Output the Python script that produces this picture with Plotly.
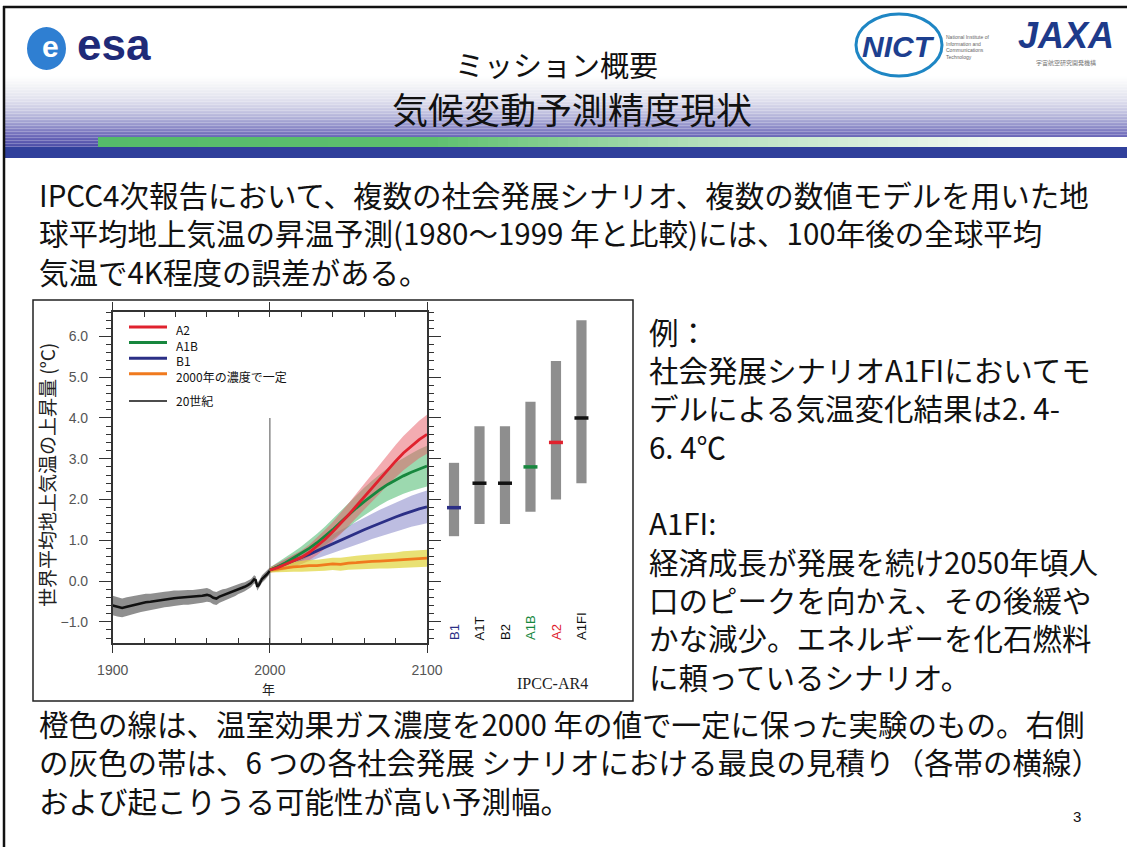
import plotly.graph_objects as go

W, H = 1127, 847
def px(x): return x / W
def py(y): return 1 - y / H

# ---------------- data ----------------
years_hist = [1900,1903,1906,1909,1912,1915,1918,1921,1924,1927,1930,1933,1936,1939,1942,1945,1948,1951,1954,1957,
              1960,1962,1964,1966,1968,1970,1972,1974,1976,1978,1980,1982,1984,1986,1988,1990,1991,1992,1993,1995,
              1997,1998,2000]
temp_hist = [-0.60,-0.63,-0.66,-0.63,-0.60,-0.57,-0.55,-0.52,-0.51,-0.49,-0.47,-0.45,-0.44,-0.42,-0.41,-0.40,-0.40,-0.39,-0.38,-0.36,
             -0.34,-0.36,-0.41,-0.43,-0.38,-0.35,-0.33,-0.30,-0.27,-0.24,-0.20,-0.17,-0.14,-0.10,-0.05,0.04,0.02,-0.14,-0.10,0.05,
             0.12,0.16,0.25]
hist_half = [0.24,0.24,0.23,0.23,0.22,0.22,0.21,0.21,0.20,0.20,0.20,0.19,0.19,0.19,0.18,0.18,0.18,0.17,0.17,0.17,
             0.17,0.16,0.16,0.16,0.15,0.15,0.14,0.14,0.13,0.13,0.12,0.12,0.11,0.11,0.10,0.10,0.10,0.10,0.10,0.09,
             0.09,0.09,0.08]

years_proj = [2000,2005,2010,2015,2020,2025,2030,2035,2040,2045,2050,2055,2060,2065,2070,2075,2080,2085,2090,2095,2100]
a2_mean  = [0.27,0.33,0.41,0.49,0.58,0.70,0.85,1.02,1.21,1.41,1.62,1.84,2.06,2.29,2.51,2.74,2.94,3.14,3.31,3.47,3.60]
a2_half  = [0.06,0.10,0.13,0.15,0.17,0.19,0.21,0.23,0.24,0.26,0.28,0.30,0.32,0.34,0.36,0.38,0.40,0.42,0.44,0.46,0.48]
a1b_mean = [0.27,0.35,0.45,0.56,0.67,0.80,0.94,1.09,1.26,1.44,1.62,1.79,1.95,2.10,2.24,2.37,2.48,2.58,2.67,2.75,2.82]
a1b_half = [0.06,0.10,0.13,0.15,0.18,0.20,0.22,0.24,0.26,0.28,0.30,0.32,0.34,0.36,0.38,0.40,0.42,0.44,0.46,0.48,0.50]
b1_mean  = [0.27,0.34,0.42,0.50,0.57,0.65,0.74,0.83,0.92,1.01,1.09,1.17,1.26,1.34,1.42,1.50,1.57,1.64,1.71,1.77,1.82]
b1_half  = [0.06,0.09,0.11,0.13,0.15,0.17,0.19,0.21,0.23,0.25,0.26,0.28,0.30,0.31,0.33,0.34,0.36,0.37,0.38,0.39,0.40]
c_mean   = [0.27,0.30,0.33,0.35,0.36,0.38,0.38,0.40,0.42,0.41,0.44,0.45,0.47,0.48,0.49,0.50,0.51,0.53,0.54,0.55,0.56]
c_half   = [0.06,0.09,0.11,0.12,0.13,0.14,0.14,0.15,0.15,0.16,0.16,0.17,0.17,0.18,0.18,0.19,0.19,0.20,0.20,0.21,0.21]

scenarios = ["B1", "A1T", "B2", "A1B", "A2", "A1FI"]
range_low = [1.1, 1.4, 1.4, 1.7, 2.0, 2.4]
range_high = [2.9, 3.8, 3.8, 4.4, 5.4, 6.4]
best_est = [1.8, 2.4, 2.4, 2.8, 3.4, 4.0]
scen_colors = ["#2b2f86", "#111111", "#111111", "#17873e", "#e0222e", "#111111"]

legend_labels = ["A2", "A1B", "B1", "2000年の濃度で一定", "20世紀"]
legend_colors = ["#e0222e", "#17873e", "#2b2f86", "#f07a1e", "#111111"]

x_ticks = [1900, 2000, 2100]

title_lines = ["ミッション概要", "気候変動予測精度現状"]
intro_lines = ["IPCC4次報告において、複数の社会発展シナリオ、複数の数値モデルを用いた地",
               "球平均地上気温の昇温予測(1980〜1999 年と比較)には、100年後の全球平均",
               "気温で4K程度の誤差がある。"]
side_head = "例："
side_lines = ["社会発展シナリオA1FIにおいてモ", "デルによる気温変化結果は2. 4-", "6. 4℃", "",
              "A1FI:", "経済成長が発展を続け2050年頃人", "口のピークを向かえ、その後緩や",
              "かな減少。エネルギーを化石燃料", "に頼っているシナリオ。"]
foot_lines = ["橙色の線は、温室効果ガス濃度を2000 年の値で一定に保った実験のもの。右側",
              "の灰色の帯は、6 つの各社会発展 シナリオにおける最良の見積り（各帯の横線）",
              "および起こりうる可能性が高い予測幅。"]

JP = "Noto Sans CJK JP"
fig = go.Figure()

def band(xs, mean, half, color, xa="x", ya="y"):
    up = [m + h for m, h in zip(mean, half)]
    lo = [m - h for m, h in zip(mean, half)]
    fig.add_trace(go.Scatter(x=xs + xs[::-1], y=up + lo[::-1], fill="toself", fillcolor=color,
                             line=dict(width=0), mode="lines", hoverinfo="skip", xaxis=xa, yaxis=ya))

band(years_hist, temp_hist, hist_half, "rgba(115,115,115,0.8)")
band(years_proj, b1_mean, b1_half, "rgba(135,135,200,0.55)")
band(years_proj, a1b_mean, a1b_half, "rgba(75,185,110,0.55)")
band(years_proj, a2_mean, a2_half, "rgba(232,90,100,0.5)")
band(years_proj, c_mean, c_half, "rgba(225,215,70,0.75)")

fig.add_trace(go.Scatter(x=years_hist, y=temp_hist, mode="lines", line=dict(color="#111111", width=2.5)))
fig.add_trace(go.Scatter(x=years_proj, y=c_mean, mode="lines", line=dict(color="#f07a1e", width=2.8)))
fig.add_trace(go.Scatter(x=years_proj, y=b1_mean, mode="lines", line=dict(color="#2b2f86", width=2.8)))
fig.add_trace(go.Scatter(x=years_proj, y=a1b_mean, mode="lines", line=dict(color="#17873e", width=2.8)))
fig.add_trace(go.Scatter(x=years_proj, y=a2_mean, mode="lines", line=dict(color="#e0222e", width=2.8)))

fig.add_trace(go.Bar(x=scenarios, y=[h - l for h, l in zip(range_high, range_low)], base=range_low,
                     width=0.4, marker=dict(color="#8e8e8e", line=dict(width=0)), xaxis="x2", yaxis="y2"))
fig.add_trace(go.Scatter(x=scenarios, y=best_est, mode="markers", xaxis="x2", yaxis="y2",
                         marker=dict(symbol="line-ew", size=10, line=dict(width=3.5, color=scen_colors))))

y_range = [-1.52, 6.60]
axis_common = dict(showline=True, linecolor="#333", linewidth=1.5, showgrid=False, zeroline=False,
                   mirror="ticks", tickcolor="#333", tickwidth=1.3, automargin=False)
fig.update_layout(
    width=W, height=H, margin=dict(l=0, r=0, t=0, b=0, pad=0, autoexpand=False), showlegend=False,
    paper_bgcolor="white", plot_bgcolor="white",
    xaxis=dict(domain=[px(112.7), px(427)], range=[1900, 2100], tickvals=x_ticks, ticks="outside", ticklen=8,
               minor=dict(tick0=1900, dtick=20, ticks="inside", ticklen=5, tickcolor="#333"),
               tickfont=dict(family="Liberation Sans", size=14, color="#555"), ticklabelstandoff=5,
               anchor="y", **axis_common),
    yaxis=dict(domain=[py(643), py(312)], range=y_range, tick0=0, dtick=1, tickformat=".1f", ticks="outside",
               ticklen=12, minor=dict(tick0=0, dtick=0.2, ticks="outside", ticklen=5, tickcolor="#333"),
               tickfont=dict(family="Liberation Sans", size=14, color="#555"), ticklabelstandoff=8,
               anchor="x", **axis_common),
    xaxis2=dict(domain=[px(428), px(610)], range=[-1.02, 6.12], visible=False, anchor="y2", automargin=False),
    yaxis2=dict(domain=[py(643), py(312)], range=y_range, visible=False, anchor="x2", automargin=False),
)

shapes = []
anns = []

def hex2rgb(h):
    h = h.lstrip("#")
    return [int(h[i:i + 2], 16) for i in (0, 2, 4)]

def interp(stops, v):
    for (a, ca), (b, cb) in zip(stops[:-1], stops[1:]):
        if a <= v <= b:
            t = (v - a) / (b - a) if b > a else 0
            c1, c2 = hex2rgb(ca), hex2rgb(cb)
            return "rgb(%d,%d,%d)" % tuple(round(c1[i] + (c2[i] - c1[i]) * t) for i in range(3))
    return stops[-1][1]

# header vertical gradient
grad = [(76, "#ffffff"), (88, "#f0f1f5"), (100, "#e0e0ee"), (110, "#c9c9e3"), (120, "#a9a9d5"),
        (128, "#8b89c7"), (136, "#6d69b9"), (147, "#4b4da7")]
y = 76
while y < 147:
    shapes.append(dict(type="rect", xref="paper", yref="paper", x0=px(4), x1=1, y0=py(y + 1.6), y1=py(y),
                       fillcolor=interp(grad, y + 0.5), line=dict(width=0), layer="below"))
    y += 1.5
shapes.append(dict(type="rect", xref="paper", yref="paper", x0=px(4), x1=1, y0=py(158), y1=py(147),
                   fillcolor="#30409b", line=dict(width=0), layer="below"))
# green bar horizontal gradient
gstops = [(98, "#55bb6a"), (430, "#5dc06e"), (700, "#b3dfbb"), (1000, "#f3f9f4"), (1127, "#ffffff")]
x = 98
while x < 1127:
    shapes.append(dict(type="rect", xref="paper", yref="paper", x0=px(x), x1=px(x + 11), y0=py(147), y1=py(137),
                       fillcolor=interp(gstops, x + 5), line=dict(width=0), layer="below"))
    x += 10
# slide border
shapes.append(dict(type="line", xref="paper", yref="paper", x0=px(3), x1=1, y0=py(7), y1=py(7),
                   line=dict(color="#111", width=2.5)))
shapes.append(dict(type="line", xref="paper", yref="paper", x0=px(4), x1=px(4), y0=py(6), y1=0,
                   line=dict(color="#111", width=2.5)))
# chart frame
shapes.append(dict(type="rect", xref="paper", yref="paper", x0=px(33), x1=px(633), y0=py(701), y1=py(300),
                   line=dict(color="#222", width=1.5)))
# vertical reference line at 2000
shapes.append(dict(type="line", xref="x", yref="y", x0=2000, x1=2000, y0=y_range[0], y1=4.0,
                   line=dict(color="#8a8a8a", width=1.5), layer="below"))
# legend samples
leg_y = [327, 342.6, 358.2, 373.8, 401]
for i, col in enumerate(legend_colors):
    shapes.append(dict(type="line", xref="paper", yref="paper", x0=px(129), x1=px(167), y0=py(leg_y[i]), y1=py(leg_y[i]),
                       line=dict(color=col, width=3 if i < 4 else 1.5)))
anns.append(dict(text="<br>".join(legend_labels[:4]), x=px(174), y=py(319), xanchor="left", yanchor="top",
                 align="left", font=dict(family=JP, size=12, color="#111")))
anns.append(dict(text=legend_labels[4], x=px(174), y=py(401), xanchor="left", yanchor="middle",
                 font=dict(family=JP, size=12, color="#111")))

# logos (approximate)
shapes.append(dict(type="circle", xref="paper", yref="paper", x0=px(27), x1=px(66), y0=py(70), y1=py(27),
                   fillcolor="#2f7fd2", line=dict(width=0)))
shapes.append(dict(type="circle", xref="paper", yref="paper", x0=px(856), x1=px(942), y0=py(76), y1=py(14),
                   line=dict(color="#1e86c4", width=3)))
anns.append(dict(text="<b>e</b>", x=px(50), y=py(47), font=dict(family="Liberation Sans", size=30, color="white")))
anns.append(dict(text="<b>esa</b>", x=px(114), y=py(44), font=dict(family="Liberation Sans", size=44, color="#1f2a78")))
anns.append(dict(text="<b><i>NICT</i></b>", x=px(898), y=py(47), font=dict(family="Liberation Sans", size=30, color="#1d3f8f")))
anns.append(dict(text="National Institute of<br>Information and<br>Communications<br>Technology", x=px(944), y=py(47),
                 xanchor="left", align="left", font=dict(family="Liberation Sans", size=5, color="#666")))
anns.append(dict(text="<b><i>JAXA</i></b>", x=px(1066), y=py(36), font=dict(family="Liberation Sans", size=36, color="#1d3a8a")))
anns.append(dict(text="宇宙航空研究開発機構", x=px(1066), y=py(63), font=dict(family=JP, size=6, color="#777")))

# titles
anns.append(dict(text=title_lines[0], x=px(556), y=py(64), font=dict(family=JP, size=29, color="#111")))
anns.append(dict(text=title_lines[1], x=px(572), y=py(108), font=dict(family=JP, size=36, color="#111")))

# body text blocks (multi-line)
anns.append(dict(text="<br>".join(intro_lines), x=px(37), y=py(232), xanchor="left", align="left",
                 font=dict(family=JP, size=29.5, color="#111")))
anns.append(dict(text=side_head, x=px(647), y=py(331), xanchor="left", font=dict(family=JP, size=29.5, color="#111")))
anns.append(dict(text="<br>".join(side_lines), x=px(647), y=py(522), xanchor="left", align="left",
                 font=dict(family=JP, size=29.5, color="#111")))
anns.append(dict(text="<br>".join(foot_lines), x=px(37), y=py(761), xanchor="left", align="left",
                 font=dict(family=JP, size=29.5, color="#111")))
anns.append(dict(text="3", x=px(1077), y=py(816), font=dict(family="Liberation Sans", size=15, color="#111")))

# chart texts
anns.append(dict(text="世界平均地上気温の上昇量 (°C)", x=px(46), y=py(475), textangle=-90,
                 font=dict(family=JP, size=19, color="#222")))
anns.append(dict(text="年", x=px(268), y=py(688), font=dict(family=JP, size=13, color="#222")))
anns.append(dict(text="IPCC-AR4", x=px(552), y=py(683), font=dict(family="Liberation Serif", size=16, color="#222")))
for s, c in zip(scenarios, scen_colors):
    anns.append(dict(text=s, x=s, xref="x2", y=py(642), yref="paper", textangle=-90, xanchor="center",
                     yanchor="bottom", font=dict(family="Liberation Sans", size=13, color=c)))

for a in anns:
    a.setdefault("xref", "paper")
    a.setdefault("yref", "paper")
    a["showarrow"] = False
    a.setdefault("xanchor", "center")
    a.setdefault("yanchor", "middle")

fig.update_layout(shapes=shapes, annotations=anns)
fig.write_html("out.html")
